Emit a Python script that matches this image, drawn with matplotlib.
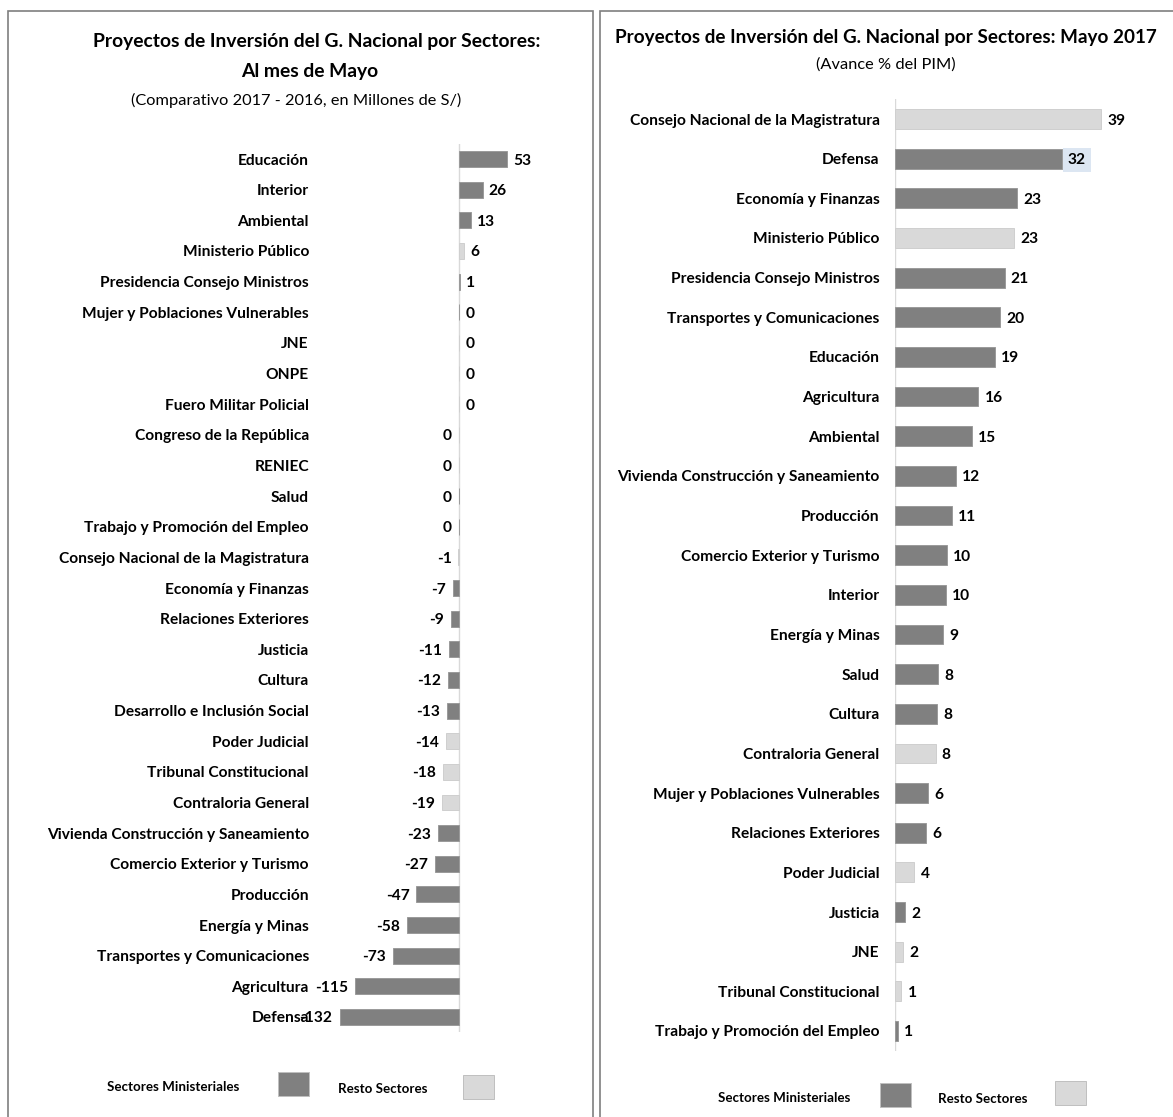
import matplotlib.pyplot as plt
from matplotlib.patches import Rectangle

plt.rcParams['font.family'] = ['Liberation Sans Narrow', 'DejaVu Sans Condensed',
                               'Lato', 'DejaVu Sans']

DARK = '#808080'
LIGHT = '#d9d9d9'

# Left panel: difference 2017 - 2016, millions of S/
left_sectors = [
    'Educación', 'Interior', 'Ambiental', 'Ministerio Público',
    'Presidencia Consejo Ministros', 'Mujer y Poblaciones Vulnerables',
    'JNE', 'ONPE', 'Fuero Militar Policial', 'Congreso de la República',
    'RENIEC', 'Salud', 'Trabajo y Promoción del Empleo',
    'Consejo Nacional de la Magistratura', 'Economía y Finanzas',
    'Relaciones Exteriores', 'Justicia', 'Cultura',
    'Desarrollo e Inclusión Social', 'Poder Judicial',
    'Tribunal Constitucional', 'Contraloria General',
    'Vivienda Construcción y Saneamiento', 'Comercio Exterior y Turismo',
    'Producción', 'Energía y Minas', 'Transportes y Comunicaciones',
    'Agricultura', 'Defensa',
]
left_values = [
    53, 26, 13, 6, 0.8, 0.2, 0.1, 0.1, 0.0, -0.3, -0.3, -0.4, -0.4,
    -0.6, -7, -9, -11, -12, -13, -14, -18, -19, -23, -27, -47, -58,
    -73, -115, -132,
]

# Right panel: % of PIM executed, May 2017
right_sectors = [
    'Consejo Nacional de la Magistratura', 'Defensa', 'Economía y Finanzas',
    'Ministerio Público', 'Presidencia Consejo Ministros',
    'Transportes y Comunicaciones', 'Educación', 'Agricultura', 'Ambiental',
    'Vivienda Construcción y Saneamiento', 'Producción',
    'Comercio Exterior y Turismo', 'Interior', 'Energía y Minas', 'Salud',
    'Cultura', 'Contraloria General', 'Mujer y Poblaciones Vulnerables',
    'Relaciones Exteriores', 'Poder Judicial', 'Justicia', 'JNE',
    'Tribunal Constitucional', 'Trabajo y Promoción del Empleo',
]
right_values = [
    39.1, 31.6, 23.1, 22.6, 20.8, 19.9, 19.0, 15.8, 14.6, 11.6, 10.8, 9.8,
    9.6, 9.2, 8.1, 8.0, 7.7, 6.2, 5.9, 3.7, 1.9, 1.6, 1.2, 0.6,
]

# sectors that are not ministries ("Resto Sectores")
resto = {
    'Ministerio Público', 'JNE', 'ONPE', 'Fuero Militar Policial',
    'Congreso de la República', 'RENIEC',
    'Consejo Nacional de la Magistratura', 'Poder Judicial',
    'Tribunal Constitucional', 'Contraloria General',
}

W, H = 1173, 1117
fig = plt.figure(figsize=(W / 100, H / 100), dpi=100)
renderer = fig.canvas.get_renderer()


def fit_size(s, target_px, weight='bold'):
    # font size that makes the string about target_px wide
    t = fig.text(0, 0, s, fontsize=10, fontweight=weight)
    w = t.get_window_extent(renderer=renderer).width
    t.remove()
    return 10 * target_px / w


def px_axes(left, right, top, bottom):
    return fig.add_axes([left / W, 1 - bottom / H,
                         (right - left) / W, (bottom - top) / H])


label_size = fit_size('Vivienda Construcción y Saneamiento', 262)


def draw_bars(ax, sectors, values, height, pad):
    colors = [LIGHT if s in resto else DARK for s in sectors]
    edges = ['#cfcfcf' if s in resto else '#9a9a9a' for s in sectors]
    y = list(range(len(sectors)))
    ax.barh(y, values, height=height, color=colors, edgecolor=edges,
            linewidth=0.7, zorder=2)
    ax.set_yticks(y)
    ax.set_yticklabels(sectors, fontsize=label_size, fontweight='bold')
    ax.tick_params(axis='y', length=0, pad=pad)
    ax.set_xticks([])
    ax.set_ylim(len(sectors) - 0.5, -0.5)
    for side in ax.spines.values():
        side.set_visible(False)
    ax.axvline(0, color='#d9d9d9', lw=1, zorder=1)
    ax.patch.set_alpha(0)
    texts = []
    for yi, v in zip(y, values):
        lab = f"{round(v)}"
        if v >= 0:
            t = ax.annotate(lab, (v, yi), xytext=(4.5, 0),
                            textcoords='offset points', ha='left',
                            va='center_baseline', fontsize=label_size,
                            fontweight='bold')
        else:
            t = ax.annotate(lab, (v, yi), xytext=(-5, 0),
                            textcoords='offset points', ha='right',
                            va='center_baseline', fontsize=label_size,
                            fontweight='bold')
        texts.append(t)
    return texts


# Left chart
ax1 = px_axes(320, 585, 143.7, 1032.3)
ax1.set_xlim((320 - 459) / 0.905, (585 - 459) / 0.905)
draw_bars(ax1, left_sectors, left_values, 0.52, 8)

# Right chart
ax2 = px_axes(895, 1165, 99.2, 1050.8)
ax2.set_xlim(0, 270 / 5.27)
labels2 = draw_bars(ax2, right_sectors, right_values, 0.5, 11)
labels2[1].set_bbox(dict(facecolor='#dce6f2', edgecolor='none', pad=3.5))

# Titles
t1 = 'Proyectos de Inversión del G. Nacional por Sectores:'
t2 = 'Proyectos de Inversión del G. Nacional por Sectores: Mayo 2017'
sub1 = '(Comparativo 2017 - 2016, en Millones de S/)'
title_size = fit_size(t1, 450)
sub_size = fit_size(sub1, 329, weight='normal')
fig.text(317 / W, 1 - 42 / H, t1,
         ha='center', va='center', fontsize=title_size, fontweight='bold')
fig.text(310 / W, 1 - 72 / H, 'Al mes de Mayo',
         ha='center', va='center', fontsize=title_size, fontweight='bold')
fig.text(296 / W, 1 - 100 / H, sub1,
         ha='center', va='center', fontsize=sub_size)
fig.text(886 / W, 1 - 38 / H, t2, ha='center', va='center',
         fontsize=fit_size(t2, 543), fontweight='bold')
fig.text(886 / W, 1 - 65 / H, '(Avance % del PIM)',
         ha='center', va='center', fontsize=sub_size)

# Panel frames
for x0, x1 in [(8, 593), (600, 1180)]:
    fig.add_artist(Rectangle((x0 / W, -0.02), (x1 - x0) / W,
                             1 - 11 / H + 0.02, transform=fig.transFigure,
                             fill=False, edgecolor='#7f7f7f', lw=1.2))

# Legends
legend_size = fit_size('Sectores Ministeriales', 132)
legend_items = [
    # (text, text_left, text_y, color, box_left, box_top)
    ('Sectores Ministeriales', 107, 1087, DARK, 278, 1072),
    ('Resto Sectores', 338, 1089, LIGHT, 463, 1075),
    ('Sectores Ministeriales', 718, 1098, DARK, 880, 1083),
    ('Resto Sectores', 938, 1099, LIGHT, 1055, 1081),
]
for text, tx, ty, col, bx, by in legend_items:
    fig.text(tx / W, 1 - ty / H, text, ha='left', va='center',
             fontsize=legend_size, fontweight='bold')
    fig.add_artist(Rectangle((bx / W, 1 - (by + 24) / H), 31 / W, 24 / H,
                             transform=fig.transFigure, facecolor=col,
                             edgecolor='#bfbfbf', lw=0.7))

fig.savefig('out.png', dpi=100)
